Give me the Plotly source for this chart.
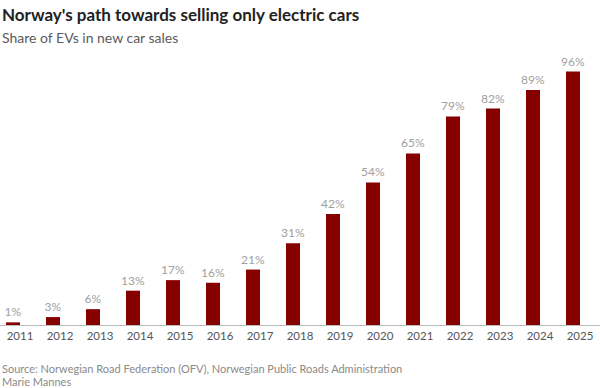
import plotly.graph_objects as go

years = ["2011", "2012", "2013", "2014", "2015", "2016", "2017", "2018",
         "2019", "2020", "2021", "2022", "2023", "2024", "2025"]
shares = [1, 3, 6, 13, 17, 16, 21, 31, 42, 54, 65, 79, 82, 89, 96]
labels = [f"{v}%" for v in shares]

FONT = "Lato, Open Sans, sans-serif"

fig = go.Figure(go.Bar(
    x=years, y=shares, text=labels, textposition="outside",
    constraintext="none",
    textfont=dict(family=FONT, size=12, color="#a0a0a0"),
    marker=dict(color="#870000", line=dict(width=0)),
    width=0.35, cliponaxis=False, hoverinfo="skip",
))

fig.update_layout(
    width=600, height=388,
    margin=dict(l=0, r=0, t=61, b=63),
    paper_bgcolor="white", plot_bgcolor="white",
    showlegend=False,
    xaxis=dict(type="category", range=[-0.325, 14.675], showgrid=False,
               showline=True, linecolor="#bdbdbd", linewidth=1,
               ticks="", tickfont=dict(family=FONT, size=11.5, color="#555555"),
               ticklabelstandoff=0, ticklabelshift=7),
    yaxis=dict(range=[0, 100], visible=False, showgrid=False, zeroline=False),
)


def py(pix):
    # pixel from top -> paper y
    return (325 - pix) / 264


fig.add_annotation(text="<b>Norway's path towards selling only electric cars</b>",
                   xref="paper", yref="paper", x=0, xanchor="left",
                   y=py(14), yanchor="middle", showarrow=False,
                   font=dict(family=FONT, size=17, color="#222222"))
fig.add_annotation(text="Share of EVs in new car sales",
                   xref="paper", yref="paper", x=0, xanchor="left",
                   y=py(38), yanchor="middle", showarrow=False,
                   font=dict(family=FONT, size=14, color="#5a5a5a"))
fig.add_annotation(text="Source: Norwegian Road Federation (OFV), Norwegian Public Roads Administration",
                   xref="paper", yref="paper", x=0, xanchor="left",
                   y=py(368), yanchor="middle", showarrow=False,
                   font=dict(family=FONT, size=11, color="#8a8a8a"))
fig.add_annotation(text="Marie Mannes",
                   xref="paper", yref="paper", x=0, xanchor="left",
                   y=py(381), yanchor="middle", showarrow=False,
                   font=dict(family=FONT, size=11, color="#8a8a8a"))

fig.write_html("out.html", config={"displayModeBar": False},
               post_script="document.body.style.margin='0';")
